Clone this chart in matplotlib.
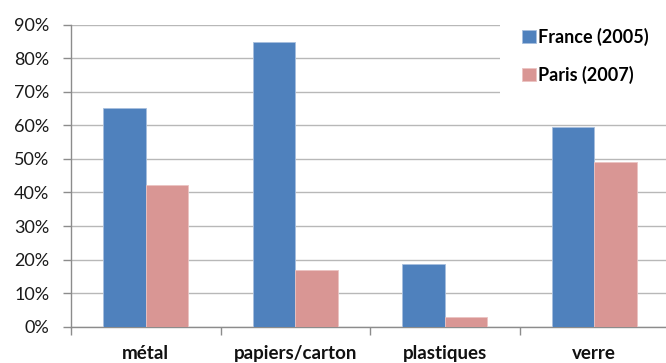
import matplotlib
matplotlib.use("Agg")
import matplotlib.pyplot as plt
import numpy as np
from matplotlib.ticker import PercentFormatter

categories = ["métal", "papiers/carton", "plastiques", "verre"]
france_2005 = [65.3, 84.7, 18.8, 59.6]
paris_2007 = [42.2, 17.0, 2.8, 49.2]
y_ticks = list(range(0, 91, 10))

plt.rcParams["font.family"] = ["Lato", "DejaVu Sans"]

blue = "#4F81BD"
pink = "#D99694"
grid_gray = "#B8B8B8"
axis_gray = "#8C8C8C"

fig = plt.figure(figsize=(6.66, 3.63), dpi=100)
ax = fig.add_axes([71 / 666, 0.1, 598 / 666, 0.832])

x = np.arange(len(categories))
w = 0.285
ax.bar(x - w / 2, france_2005, width=w, color=blue, edgecolor="#A7BEDE",
       linewidth=0.6, label="France (2005)", zorder=3)
ax.bar(x + w / 2, paris_2007, width=w, color=pink, edgecolor="#EBC3C2",
       linewidth=0.6, label="Paris (2007)", zorder=3)

ax.set_xlim(-0.5, len(categories) - 0.5)
ax.set_ylim(0, 90)
ax.set_yticks(y_ticks)
ax.yaxis.set_major_formatter(PercentFormatter(decimals=0))
ax.yaxis.grid(True, color=grid_gray, linewidth=1.0, zorder=0)
ax.set_axisbelow(True)

ax.set_xticks(x)
ax.set_xticklabels(categories, fontsize=13.5, fontweight="bold", color="#111111")
ax.set_xticks(np.arange(-0.5, len(categories)), minor=True)
ax.tick_params(axis="x", which="major", length=0, pad=13)
ax.tick_params(axis="x", which="minor", length=5.5, color=axis_gray, width=1.0)
ax.tick_params(axis="y", length=5.5, color=axis_gray, width=1.0, pad=10,
               labelsize=13, labelcolor="#1a1a1a")

for side in ("top", "right"):
    ax.spines[side].set_visible(False)
for side in ("left", "bottom"):
    ax.spines[side].set_color(axis_gray)
    ax.spines[side].set_linewidth(1.0)

leg = ax.legend(loc="upper left", bbox_to_anchor=(500 / 666, 1 - 6 / 363),
                bbox_transform=fig.transFigure, frameon=True, facecolor="white",
                edgecolor="none", framealpha=1.0, fancybox=False,
                prop={"size": 13, "weight": "bold"}, handlelength=0.78,
                handleheight=0.67, handletextpad=0.1, labelspacing=1.1,
                borderpad=1.2, borderaxespad=0)
leg.set_zorder(5)

fig.savefig("out.png", dpi=100)
